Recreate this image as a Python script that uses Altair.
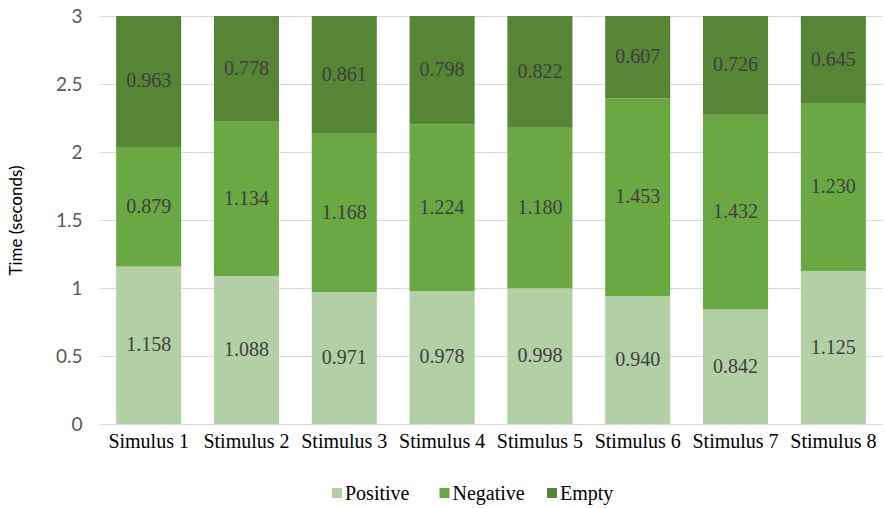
import altair as alt
import pandas as pd

stimuli = ["Simulus 1", "Stimulus 2", "Stimulus 3", "Stimulus 4",
           "Stimulus 5", "Stimulus 6", "Stimulus 7", "Stimulus 8"]
positive = [1.158, 1.088, 0.971, 0.978, 0.998, 0.940, 0.842, 1.125]
negative = [0.879, 1.134, 1.168, 1.224, 1.180, 1.453, 1.432, 1.230]
empty = [0.963, 0.778, 0.861, 0.798, 0.822, 0.607, 0.726, 0.645]
y_ticks = [0, 0.5, 1, 1.5, 2, 2.5, 3]

categories = ["Positive", "Negative", "Empty"]
colors = ["#b2cfa5", "#6aa843", "#558535"]

rows = []
for i, s in enumerate(stimuli):
    for k, (cat, vals) in enumerate(zip(categories, [positive, negative, empty])):
        rows.append({"stimulus": s, "category": cat, "order": k, "value": vals[i]})
df = pd.DataFrame(rows)
stim_df = pd.DataFrame({"stimulus": stimuli})
legend_df = pd.DataFrame({"category": categories})

serif = "Liberation Serif"
sans = "Lato"

x_scale = alt.Scale(domain=stimuli, paddingInner=0.335, paddingOuter=0.165)
color_scale = alt.Scale(domain=categories, range=colors)

base = alt.Chart(df).transform_stack(
    stack="value", groupby=["stimulus"], sort=[alt.SortField("order")],
    as_=["y0", "y1"]
).transform_calculate(
    mid="(datum.y0 + datum.y1) / 2",
    label="format(datum.value, '.3f')"
)

# stacked segments
bars = base.mark_bar().encode(
    x=alt.X("stimulus:N", sort=stimuli, title=None, scale=x_scale,
            axis=alt.Axis(labels=False, ticks=False, domainColor="#d9d9d9",
                          grid=False)),
    y=alt.Y("y0:Q", scale=alt.Scale(domain=[0, 3]), title="Time (seconds)",
            axis=alt.Axis(values=y_ticks, labelFont=sans, labelFontSize=19,
                          labelColor="#595959", ticks=False, domain=False,
                          labelExpr="datum.value",
                          gridColor="#d9d9d9", labelPadding=18, titleFont=sans,
                          titleFontSize=17, titleFontWeight="normal",
                          titleColor="#000000", titlePadding=30)),
    y2="y1:Q",
    color=alt.Color("category:N", scale=color_scale, legend=None),
)

# value labels in the middle of each segment
labels = base.mark_text(font=serif, fontSize=20, color="#404040").encode(
    x=alt.X("stimulus:N", sort=stimuli, scale=x_scale),
    y="mid:Q",
    text="label:N",
)

# category names under the bars
x_labels = alt.Chart(stim_df).mark_text(
    font=serif, fontSize=20, color="#000000", baseline="alphabetic"
).encode(
    x=alt.X("stimulus:N", sort=stimuli, scale=x_scale),
    y=alt.value(432),
    text="stimulus:N",
)

# legend row at the bottom
legend_scale = alt.Scale(domain=categories, range=[237, 452], padding=0)
legend_sq = alt.Chart(legend_df).mark_square(size=100, opacity=1).encode(
    x=alt.X("category:N", sort=categories, axis=None, scale=legend_scale),
    y=alt.value(477),
    color=alt.Color("category:N", scale=color_scale, legend=None),
)
legend_txt = alt.Chart(legend_df).mark_text(
    font=serif, fontSize=20, color="#000000", align="left", baseline="middle", dx=8
).encode(
    x=alt.X("category:N", sort=categories, axis=None, scale=legend_scale),
    y=alt.value(478),
    text="category:N",
)

plot = alt.layer(bars, labels, x_labels)
legend = alt.layer(legend_sq, legend_txt)

chart = alt.layer(plot, legend).resolve_scale(x="independent").properties(
    width=782, height=408,
    autosize=alt.AutoSizeParams(type="none"),
    padding={"left": 100, "top": 16, "right": 4, "bottom": 84},
).configure(
    background="white"
).configure_view(
    stroke=None
)

chart.save("out.html", embed_options={"renderer": "svg", "actions": False})
